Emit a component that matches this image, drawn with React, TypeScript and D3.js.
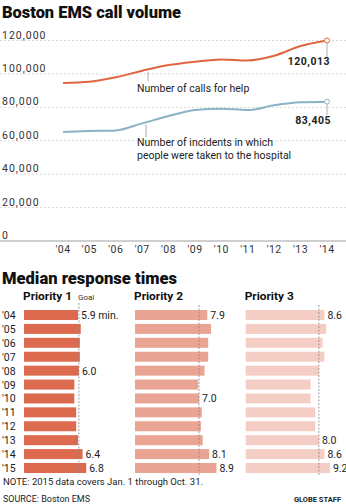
import React from "react";
import * as d3 from "d3";

const years = [2004, 2005, 2006, 2007, 2008, 2009, 2010, 2011, 2012, 2013, 2014];
const calls = [94600, 95300, 98000, 101900, 105300, 107300, 108700, 108100, 110900, 116700, 120013];
const incidents = [65200, 65800, 66200, 70400, 74800, 78400, 79200, 78400, 81200, 83000, 83405];
const yTicks = [0, 20000, 40000, 60000, 80000, 100000, 120000];

const rowLabels = ["'04", "'05", "'06", "'07", "'08", "'09", "'10", "'11", "'12", "'13", "'14", "'15"];
const priority1 = [5.9, 6.2, 6.1, 6.1, 6.0, 5.5, 5.5, 5.7, 5.7, 5.9, 6.4, 6.8];
const priority2 = [7.9, 8.3, 8.0, 8.0, 7.6, 6.9, 7.0, 7.3, 7.2, 7.4, 8.1, 8.9];
const priority3 = [8.6, 8.8, 8.4, 8.6, 8.0, 7.1, 7.1, 7.6, 7.6, 8.0, 8.6, 9.2];
const goals = [6.0, 7.0, 8.0];
const p1Labels: Record<number, string> = { 0: "5.9 min.", 4: "6.0", 10: "6.4", 11: "6.8" };
const p2Labels: Record<number, string> = { 0: "7.9", 6: "7.0", 10: "8.1", 11: "8.9" };
const p3Labels: Record<number, string> = { 0: "8.6", 9: "8.0", 10: "8.6", 11: "9.2" };

const FONT = "Roboto, 'Liberation Sans', sans-serif";

export default function App() {
  const x = d3.scaleLinear().domain([2004, 2014]).range([63, 327]);
  const y = d3.scaleLinear().domain([0, 120000]).range([241, 40.5]);
  const line = d3
    .line<number>()
    .x((_, i) => x(years[i]))
    .y((d) => y(d))
    .curve(d3.curveMonotoneX);

  const rowY = d3.scaleLinear().domain([0, 11]).range([315, 468]);
  const barH = 10;
  const panels = [
    { x0: 24, data: priority1, color: "#dc6a4f", labels: p1Labels, title: "Priority 1", goal: goals[0] },
    { x0: 135, data: priority2, color: "#e9a494", labels: p2Labels, title: "Priority 2", goal: goals[1] },
    { x0: 245.7, data: priority3, color: "#f4cec5", labels: p3Labels, title: "Priority 3", goal: goals[2] },
  ];
  const fmt = d3.format(",");

  const lastX = x(2014);
  return (
    <svg width={346} height={504} style={{ position: "absolute", left: 0, top: 0, background: "#fff" }} fontFamily={FONT}>
      <text x={2} y={18} fontSize={17} fontWeight={900} fill="#111" textLength={179} lengthAdjust="spacingAndGlyphs">
        Boston EMS call volume
      </text>

      {yTicks.map((t) => (
        <g key={t}>
          <line
            x1={0}
            x2={346}
            y1={y(t)}
            y2={y(t)}
            stroke={t === 0 ? "#a0a0a0" : "#d0d0d0"}
            strokeWidth={t === 0 ? 1.2 : 0.8}
            strokeDasharray={t === 0 ? undefined : "2,2"}
          />
          <text x={2} y={y(t) - 2} fontSize={10.5} fill="#333" letterSpacing={t === 0 ? 0 : 1}>
            {fmt(t)}
          </text>
        </g>
      ))}

      {years.map((yr) => (
        <text key={yr} x={x(yr)} y={253} fontSize={10.5} fill="#333" textAnchor="middle" letterSpacing={0.5}>
          {"'" + String(yr).slice(2)}
        </text>
      ))}

      <path d={line(calls) || ""} fill="none" stroke="#e0663f" strokeWidth={2} />
      <path d={line(incidents) || ""} fill="none" stroke="#8cb2c6" strokeWidth={2} />

      <line x1={lastX} x2={lastX} y1={y(calls[10]) + 2.5} y2={57} stroke="#999" strokeWidth={0.8} />
      <circle cx={lastX} cy={y(calls[10])} r={2.5} fill="#fff" stroke="#e0663f" strokeWidth={1} />
      <text x={330} y={64.5} fontSize={10.5} fontWeight={700} fill="#222" textAnchor="end" letterSpacing={0.5}>
        {fmt(calls[10])}
      </text>

      <line x1={lastX} x2={lastX} y1={y(incidents[10]) + 2.5} y2={115} stroke="#999" strokeWidth={0.8} />
      <circle cx={lastX} cy={y(incidents[10])} r={2.5} fill="#fff" stroke="#8cb2c6" strokeWidth={1} />
      <text x={331} y={123.5} fontSize={10.5} fontWeight={700} fill="#222" textAnchor="end" letterSpacing={0.5}>
        {fmt(incidents[10])}
      </text>

      <line x1={148} x2={148} y1={y(calls[3]) + 1} y2={81} stroke="#999" strokeWidth={0.8} />
      <text x={137} y={91.5} fontSize={10.5} fill="#222">
        Number of calls for help
      </text>
      <line x1={146} x2={146} y1={y(incidents[3]) + 1} y2={137} stroke="#999" strokeWidth={0.8} />
      <text x={137} y={146} fontSize={10.5} fill="#222">
        Number of incidents in which
      </text>
      <text x={137} y={159} fontSize={10.5} fill="#222">
        people were taken to the hospital
      </text>

      <text x={2} y={283.5} fontSize={16} fontWeight={900} fill="#111" textLength={175} lengthAdjust="spacingAndGlyphs">
        Median response times
      </text>

      {rowLabels.map((r, i) => (
        <text key={r} x={2} y={rowY(i) + 4} fontSize={10.5} fill="#222">
          {r}
        </text>
      ))}

      {panels.map((p, pi) => {
        const s = d3.scaleLinear().domain([0, 10]).range([p.x0, p.x0 + 91.5]);
        return (
          <g key={pi}>
            <text x={p.x0 - 1} y={300} fontSize={11} fontWeight={700} fill="#111" textLength={49} lengthAdjust="spacingAndGlyphs">
              {p.title}
            </text>
            {pi === 0 && (
              <text x={78} y={300} fontSize={8} fill="#333">
                Goal
              </text>
            )}
            {p.data.map((v, i) => (
              <rect key={i} x={s(0)} y={rowY(i) - barH / 2} width={s(v) - s(0)} height={barH} fill={p.color} />
            ))}
            <line
              x1={s(p.goal)}
              x2={s(p.goal)}
              y1={pi === 0 ? 303 : 305}
              y2={475}
              stroke="#888"
              strokeWidth={0.8}
              strokeDasharray="2,1.5"
            />
            {p.data.map((v, i) =>
              p.labels[i] ? (
                <text key={"l" + i} x={s(v) + 3} y={rowY(i) + 4} fontSize={10.5} fill="#222">
                  {p.labels[i]}
                </text>
              ) : null
            )}
          </g>
        );
      })}

      <text x={3} y={485} fontSize={9.5} fill="#222" textLength={200} lengthAdjust="spacingAndGlyphs">
        NOTE: 2015 data covers Jan. 1 through Oct. 31.
      </text>
      <text x={3} y={502} fontSize={9.5} fill="#222" textLength={87} lengthAdjust="spacingAndGlyphs">
        SOURCE: Boston EMS
      </text>
      <text x={341} y={502} fontSize={7.5} fontWeight={700} fill="#222" textAnchor="end">
        GLOBE STAFF
      </text>
    </svg>
  );
}
